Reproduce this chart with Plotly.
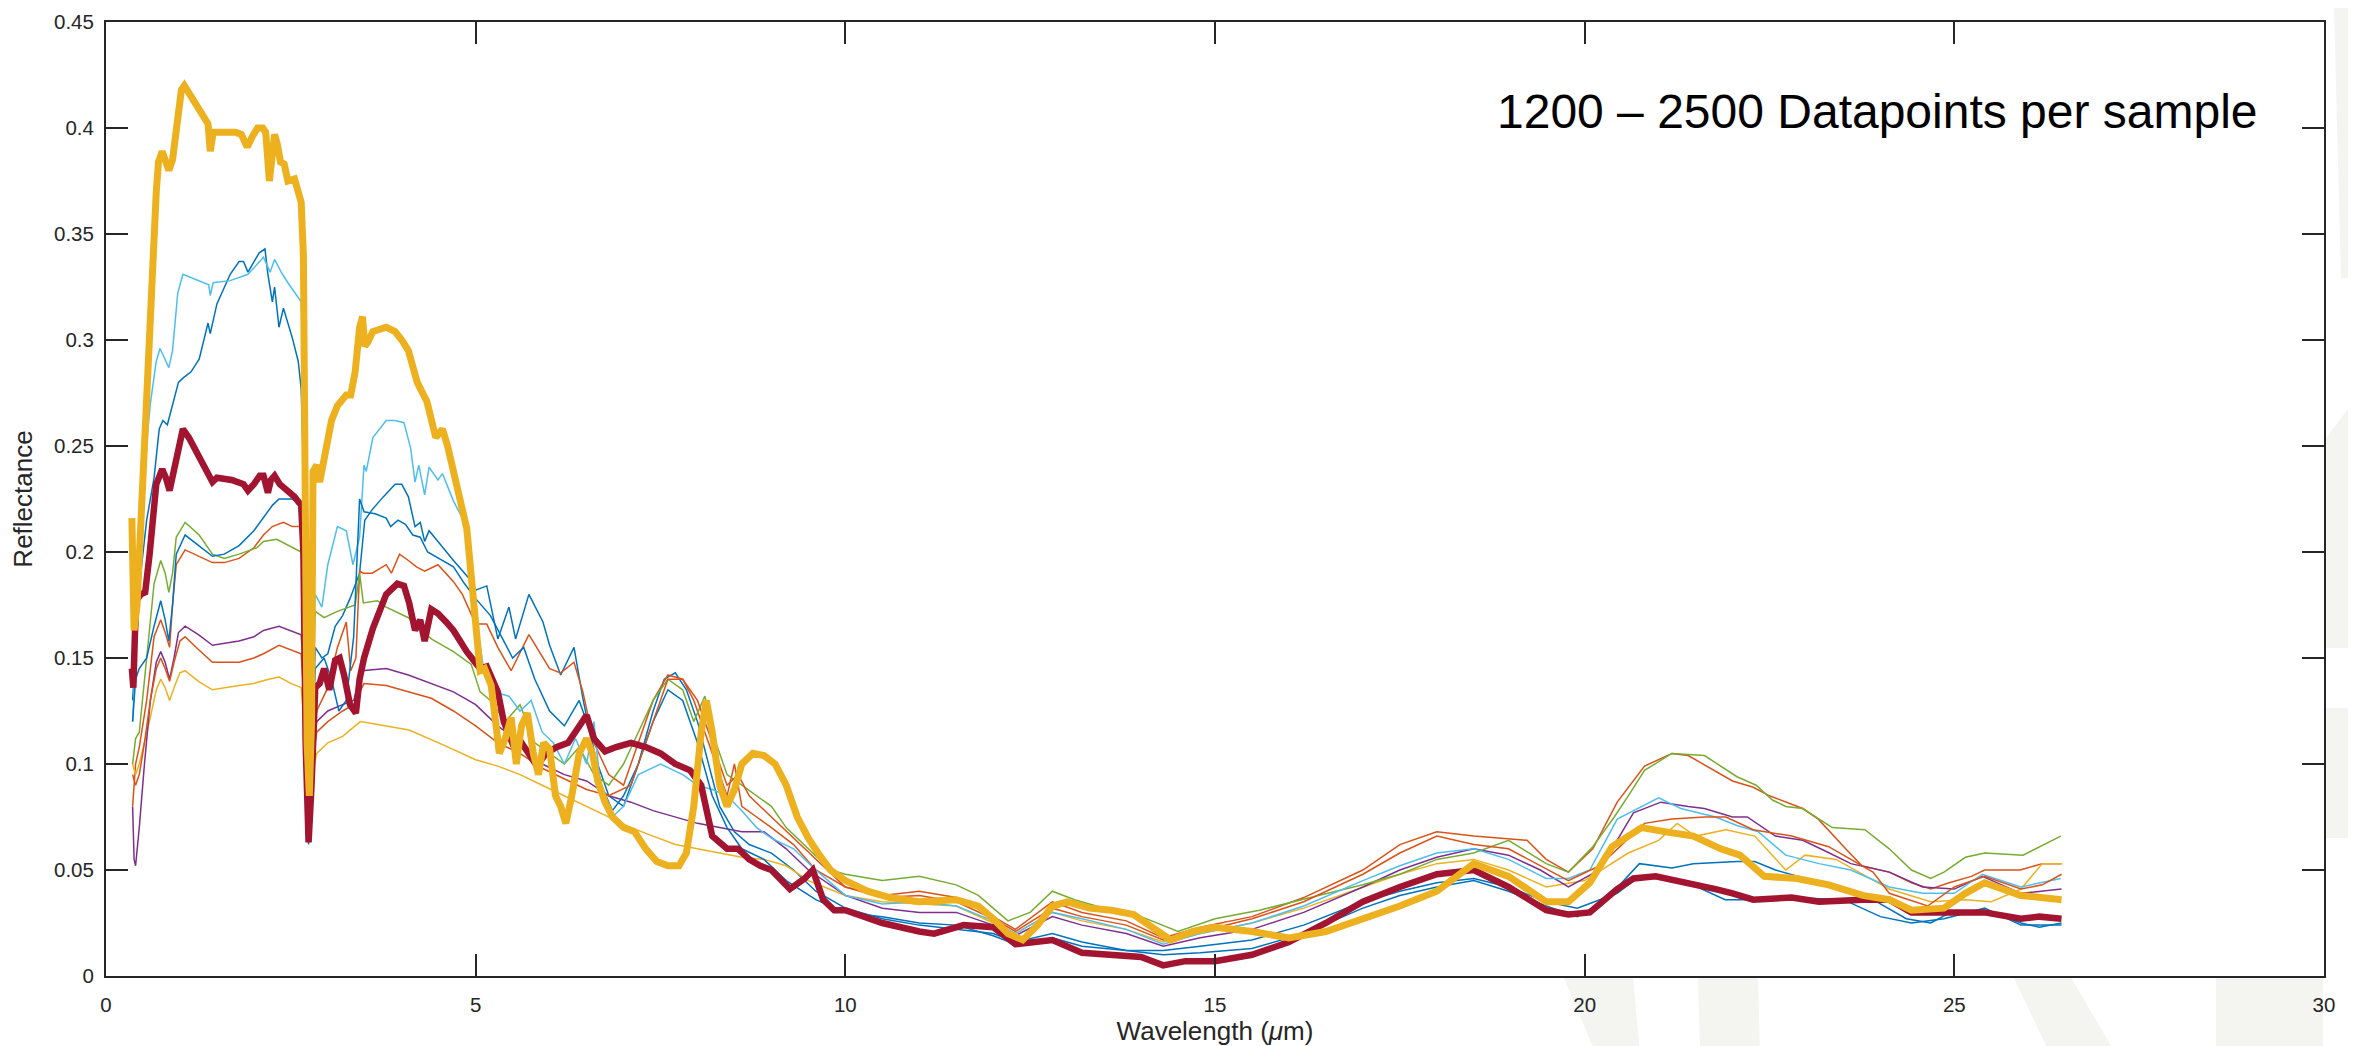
import plotly.graph_objects as go

# ---------------- data ----------------
yellow_thick_x = [0.35,0.37,0.38,0.42,0.47,0.52,0.56,0.62,0.68,0.71,0.76,0.80,0.85,0.90,0.96,1.02,1.06,1.15,1.26,1.38,1.41,1.45,1.60,1.75,1.83,1.91,1.98,2.05,2.12,2.16,2.21,2.25,2.28,2.32,2.36,2.41,2.46,2.55,2.61,2.64,2.67,2.69,2.72,2.75,2.78,2.80,2.85,2.89,2.95,3.05,3.13,3.25,3.31,3.37,3.43,3.47,3.50,3.54,3.61,3.70,3.79,3.85,3.91,4.00,4.09,4.21,4.34,4.46,4.55,4.62,4.70,4.80,4.88,4.95,5.00,5.06,5.12,5.21,5.27,5.32,5.40,5.48,5.55,5.62,5.70,5.78,5.85,5.92,6.00,6.08,6.15,6.22,6.30,6.40,6.50,6.58,6.65,6.75,6.85,7.00,7.15,7.30,7.45,7.60,7.75,7.85,7.95,8.05,8.12,8.20,8.30,8.40,8.50,8.60,8.75,8.90,9.05,9.20,9.35,9.50,9.65,9.80,10.0,10.3,10.6,11.0,11.5,11.8,12.0,12.2,12.4,12.6,12.8,13.0,13.3,13.6,13.9,14.2,14.4,14.7,15.0,15.5,16.0,16.5,17.0,17.5,18.0,18.5,18.97,19.48,19.78,20.07,20.37,20.77,21.10,21.47,21.84,22.10,22.43,22.87,23.30,23.76,24.12,24.42,24.86,25.15,25.41,25.90,26.45]
yellow_thick_y = [0.216,0.190,0.163,0.175,0.215,0.255,0.291,0.335,0.370,0.384,0.389,0.385,0.380,0.385,0.405,0.418,0.420,0.415,0.409,0.402,0.389,0.398,0.398,0.398,0.397,0.391,0.396,0.400,0.400,0.398,0.375,0.385,0.397,0.392,0.384,0.383,0.375,0.376,0.370,0.365,0.340,0.200,0.110,0.085,0.120,0.238,0.241,0.233,0.245,0.262,0.269,0.274,0.274,0.285,0.306,0.311,0.297,0.299,0.304,0.305,0.306,0.305,0.304,0.300,0.295,0.280,0.271,0.254,0.258,0.250,0.238,0.225,0.211,0.185,0.163,0.144,0.145,0.137,0.120,0.105,0.112,0.122,0.100,0.118,0.124,0.105,0.095,0.110,0.107,0.085,0.080,0.072,0.085,0.105,0.112,0.105,0.092,0.082,0.075,0.070,0.068,0.060,0.054,0.052,0.052,0.058,0.080,0.115,0.130,0.115,0.090,0.080,0.088,0.100,0.105,0.104,0.100,0.090,0.075,0.065,0.057,0.050,0.045,0.040,0.037,0.035,0.036,0.033,0.027,0.020,0.017,0.024,0.033,0.035,0.032,0.031,0.029,0.022,0.017,0.021,0.023,0.021,0.018,0.021,0.027,0.033,0.040,0.053,0.047,0.035,0.035,0.044,0.061,0.070,0.068,0.066,0.060,0.057,0.047,0.046,0.043,0.038,0.036,0.031,0.032,0.039,0.044,0.038,0.036]

red_thick_x = [0.35,0.37,0.39,0.41,0.47,0.53,0.59,0.65,0.68,0.76,0.81,0.86,0.92,0.98,1.04,1.12,1.20,1.30,1.41,1.44,1.50,1.70,1.86,1.92,2.00,2.08,2.13,2.19,2.23,2.28,2.35,2.46,2.55,2.64,2.67,2.70,2.74,2.78,2.83,2.89,2.95,3.02,3.10,3.16,3.22,3.30,3.38,3.43,3.49,3.61,3.79,3.94,4.03,4.10,4.15,4.18,4.25,4.31,4.40,4.49,4.60,4.70,4.88,5.06,5.15,5.30,5.38,5.46,5.54,5.62,5.70,5.83,5.95,6.10,6.25,6.40,6.50,6.60,6.75,6.90,7.10,7.30,7.50,7.70,7.90,8.05,8.20,8.40,8.55,8.70,8.85,9.00,9.25,9.45,9.56,9.70,9.85,10.0,10.5,11.0,11.2,11.6,12.0,12.3,12.8,13.2,13.8,14.0,14.3,14.6,15.0,15.5,16.0,16.5,17.0,17.5,18.0,18.5,18.97,19.48,19.78,20.07,20.44,20.66,20.96,21.40,21.77,22.00,22.28,22.80,23.17,23.76,24.12,24.42,24.86,25.41,25.90,26.15,26.45]
red_thick_y = [0.145,0.136,0.160,0.177,0.180,0.181,0.199,0.225,0.232,0.239,0.235,0.229,0.238,0.249,0.258,0.254,0.249,0.243,0.236,0.233,0.235,0.234,0.232,0.229,0.232,0.236,0.236,0.228,0.234,0.236,0.232,0.229,0.226,0.222,0.200,0.110,0.063,0.090,0.136,0.138,0.145,0.135,0.149,0.150,0.142,0.128,0.124,0.140,0.150,0.164,0.180,0.185,0.184,0.176,0.169,0.163,0.168,0.158,0.173,0.171,0.167,0.163,0.153,0.145,0.146,0.134,0.120,0.112,0.106,0.110,0.106,0.099,0.105,0.108,0.110,0.118,0.123,0.112,0.106,0.108,0.110,0.108,0.105,0.100,0.097,0.090,0.066,0.060,0.060,0.055,0.052,0.050,0.041,0.046,0.050,0.036,0.031,0.031,0.025,0.021,0.020,0.024,0.023,0.015,0.017,0.011,0.010,0.009,0.005,0.007,0.007,0.010,0.016,0.025,0.035,0.042,0.048,0.050,0.042,0.031,0.029,0.030,0.041,0.046,0.047,0.044,0.041,0.039,0.036,0.037,0.035,0.036,0.036,0.030,0.030,0.030,0.027,0.028,0.027]

green_x = [0.36,0.40,0.45,0.55,0.65,0.74,0.80,0.85,0.90,0.95,1.07,1.26,1.44,1.60,1.80,2.04,2.13,2.31,2.52,2.64,2.68,2.72,2.75,2.79,2.83,2.95,3.13,3.37,3.43,3.48,3.67,3.79,4.09,4.40,4.70,4.94,5.06,5.2,5.4,5.6,5.8,6.0,6.2,6.4,6.6,6.8,7.0,7.2,7.4,7.6,7.8,7.95,8.1,8.25,8.4,8.6,8.8,9.0,9.2,9.5,9.8,10.0,10.5,11.0,11.5,11.8,12.2,12.5,12.8,13.1,13.5,14.0,14.5,15.0,15.6,16.4,17.0,17.5,18.0,18.5,18.97,19.48,19.78,20.11,20.40,20.59,20.81,21.18,21.62,22.06,22.32,22.54,22.72,22.95,23.35,23.79,24.12,24.42,24.68,24.86,25.15,25.41,25.93,26.44]
green_y = [0.100,0.112,0.115,0.150,0.185,0.196,0.190,0.181,0.190,0.207,0.214,0.208,0.199,0.197,0.199,0.202,0.205,0.206,0.202,0.200,0.180,0.100,0.075,0.130,0.172,0.169,0.172,0.175,0.190,0.176,0.177,0.174,0.169,0.159,0.153,0.147,0.134,0.130,0.120,0.128,0.110,0.105,0.100,0.108,0.095,0.090,0.100,0.115,0.130,0.140,0.135,0.120,0.132,0.110,0.095,0.090,0.085,0.080,0.070,0.060,0.050,0.048,0.045,0.047,0.043,0.038,0.026,0.030,0.040,0.036,0.032,0.028,0.021,0.027,0.031,0.038,0.043,0.048,0.055,0.058,0.064,0.053,0.049,0.061,0.075,0.085,0.097,0.105,0.104,0.094,0.090,0.083,0.080,0.079,0.070,0.069,0.060,0.050,0.046,0.049,0.056,0.058,0.057,0.066]

orange1_x = [0.36,0.40,0.45,0.55,0.65,0.74,0.80,0.86,0.90,0.95,1.07,1.26,1.44,1.60,1.80,2.00,2.13,2.25,2.40,2.52,2.64,2.68,2.72,2.75,2.79,2.85,3.00,3.13,3.25,3.31,3.38,3.43,3.48,3.60,3.79,3.86,3.97,4.09,4.20,4.31,4.49,4.70,4.82,5.00,5.15,5.30,5.48,5.72,5.91,6.00,6.15,6.33,6.45,6.6,6.8,7.0,7.2,7.4,7.6,7.8,7.95,8.15,8.3,8.4,8.5,8.6,8.8,9.0,9.3,9.6,10.0,10.5,11.0,11.5,12.0,12.3,12.8,13.2,13.8,14.3,14.8,15.5,16.2,17.0,17.5,18.0,18.5,19.22,19.48,19.78,20.11,20.44,20.81,21.18,21.40,22.0,22.28,22.5,22.95,23.16,23.53,23.75,24.12,24.42,24.68,24.93,25.23,25.41,25.89,26.19,26.45]
orange1_y = [0.080,0.100,0.108,0.130,0.160,0.168,0.162,0.155,0.175,0.194,0.201,0.198,0.195,0.195,0.197,0.202,0.208,0.212,0.214,0.212,0.212,0.190,0.100,0.070,0.110,0.125,0.136,0.155,0.167,0.144,0.150,0.191,0.190,0.190,0.194,0.190,0.199,0.196,0.193,0.191,0.194,0.186,0.180,0.166,0.166,0.155,0.144,0.161,0.150,0.145,0.143,0.148,0.134,0.110,0.095,0.090,0.110,0.130,0.142,0.140,0.130,0.110,0.095,0.085,0.100,0.080,0.075,0.070,0.062,0.050,0.042,0.038,0.040,0.037,0.028,0.022,0.035,0.030,0.026,0.018,0.023,0.028,0.037,0.050,0.062,0.068,0.066,0.064,0.055,0.049,0.060,0.082,0.099,0.105,0.104,0.092,0.089,0.085,0.079,0.074,0.060,0.052,0.049,0.044,0.041,0.044,0.047,0.050,0.050,0.053,0.053]

lightblue_x = [0.36,0.40,0.45,0.52,0.60,0.68,0.73,0.78,0.85,0.90,0.97,1.04,1.26,1.39,1.41,1.45,1.68,1.92,2.13,2.22,2.28,2.37,2.46,2.64,2.67,2.70,2.74,2.78,2.83,2.92,3.00,3.13,3.25,3.34,3.43,3.49,3.52,3.61,3.79,3.91,4.03,4.12,4.18,4.23,4.31,4.37,4.49,4.55,4.70,4.82,4.94,5.00,5.06,5.12,5.18,5.24,5.45,5.6,5.75,5.9,6.05,6.2,6.35,6.5,6.6,6.7,6.85,7.0,7.2,7.5,7.8,8.0,8.2,8.4,8.6,8.8,9.0,9.3,9.6,10.0,10.5,11.0,11.5,12.0,12.3,12.8,13.2,13.8,14.3,14.8,15.5,16.2,17.0,17.5,18.0,18.5,18.97,19.48,19.78,20.07,20.44,21.0,21.3,21.77,22.06,22.35,22.72,23.17,23.6,24.12,24.57,25.0,25.38,25.9,26.44]
lightblue_y = [0.120,0.150,0.190,0.240,0.270,0.290,0.296,0.292,0.287,0.295,0.322,0.331,0.328,0.326,0.321,0.327,0.328,0.331,0.339,0.332,0.338,0.332,0.327,0.318,0.290,0.120,0.070,0.130,0.180,0.174,0.194,0.212,0.210,0.194,0.207,0.241,0.238,0.254,0.262,0.262,0.261,0.249,0.233,0.241,0.227,0.240,0.234,0.237,0.224,0.216,0.199,0.163,0.156,0.142,0.145,0.134,0.132,0.125,0.130,0.115,0.110,0.100,0.112,0.100,0.120,0.085,0.075,0.080,0.095,0.100,0.095,0.090,0.088,0.085,0.078,0.070,0.065,0.060,0.050,0.038,0.034,0.035,0.033,0.026,0.020,0.030,0.027,0.022,0.015,0.020,0.025,0.033,0.045,0.052,0.058,0.060,0.055,0.046,0.046,0.050,0.074,0.084,0.079,0.075,0.071,0.068,0.057,0.053,0.050,0.042,0.039,0.039,0.048,0.042,0.046]

blue1_x = [0.36,0.38,0.41,0.47,0.55,0.65,0.72,0.77,0.83,0.90,0.98,1.04,1.15,1.26,1.38,1.41,1.50,1.68,1.80,1.86,1.92,2.07,2.15,2.19,2.25,2.28,2.34,2.40,2.52,2.60,2.64,2.67,2.70,2.74,2.78,2.83,2.92,3.00,3.10,3.20,3.30,3.43,3.50,3.60,3.75,3.91,4.00,4.09,4.18,4.25,4.31,4.37,4.49,4.60,4.70,4.90,5.00,5.15,5.30,5.45,5.54,5.72,5.91,6.00,6.15,6.33,6.45,6.6,6.8,7.0,7.2,7.4,7.55,7.7,7.85,8.0,8.15,8.3,8.5,8.7,9.0,9.3,9.6,10.0,10.5,11.0,11.5,12.0,12.3,12.8,13.2,13.8,14.3,14.8,15.5,16.2,17.0,17.5,18.0,18.5,18.97,19.48,19.9,20.29,20.74,21.18,21.47,22.06,22.3,22.58,23.09,23.5,23.9,24.35,24.68,24.95,25.41,25.9,26.15,26.45]
blue1_y = [0.130,0.140,0.160,0.190,0.215,0.235,0.258,0.262,0.260,0.270,0.280,0.282,0.285,0.291,0.308,0.303,0.317,0.331,0.337,0.337,0.332,0.341,0.343,0.331,0.318,0.325,0.306,0.315,0.301,0.290,0.277,0.240,0.110,0.062,0.100,0.155,0.150,0.152,0.165,0.170,0.178,0.190,0.215,0.220,0.226,0.232,0.232,0.226,0.212,0.214,0.205,0.210,0.205,0.200,0.196,0.188,0.182,0.184,0.159,0.174,0.159,0.180,0.167,0.156,0.142,0.155,0.131,0.105,0.085,0.080,0.100,0.125,0.140,0.143,0.135,0.120,0.100,0.080,0.068,0.062,0.058,0.050,0.040,0.032,0.027,0.024,0.022,0.020,0.016,0.020,0.016,0.012,0.010,0.011,0.013,0.020,0.032,0.038,0.042,0.045,0.040,0.033,0.028,0.036,0.053,0.051,0.053,0.054,0.054,0.050,0.045,0.041,0.036,0.027,0.025,0.030,0.031,0.025,0.023,0.025]

blue2_x = [0.36,0.40,0.45,0.55,0.65,0.74,0.80,0.85,0.90,0.95,1.07,1.25,1.44,1.60,1.80,2.00,2.13,2.25,2.34,2.52,2.64,2.67,2.70,2.74,2.78,2.83,2.95,3.05,3.15,3.25,3.35,3.43,3.49,3.64,3.79,3.85,3.95,4.05,4.15,4.25,4.35,4.5,4.7,4.85,5.0,5.2,5.35,5.5,5.65,5.8,6.0,6.2,6.4,6.55,6.7,6.85,7.0,7.2,7.4,7.6,7.8,8.0,8.2,8.4,8.6,8.9,9.2,9.6,10.0,10.5,11.0,11.5,12.0,12.3,12.8,13.2,13.8,14.3,14.8,15.5,16.2,17.0,17.5,18.0,18.5,18.97,19.48,19.9,20.44,20.74,21.40,21.9,22.28,22.8,23.5,24.0,24.42,24.86,25.41,25.9,26.45]
blue2_y = [0.120,0.140,0.145,0.150,0.165,0.177,0.168,0.158,0.175,0.199,0.208,0.203,0.198,0.199,0.203,0.210,0.216,0.222,0.225,0.225,0.222,0.200,0.100,0.063,0.100,0.145,0.150,0.140,0.125,0.130,0.160,0.225,0.219,0.218,0.216,0.212,0.215,0.213,0.208,0.207,0.200,0.197,0.193,0.185,0.178,0.170,0.160,0.150,0.155,0.140,0.125,0.118,0.130,0.115,0.090,0.078,0.085,0.100,0.120,0.135,0.130,0.110,0.085,0.070,0.060,0.055,0.045,0.036,0.030,0.028,0.025,0.024,0.019,0.015,0.018,0.014,0.012,0.012,0.014,0.017,0.024,0.035,0.040,0.044,0.046,0.042,0.035,0.032,0.039,0.047,0.044,0.036,0.036,0.037,0.036,0.028,0.025,0.027,0.032,0.024,0.024]

purple_x = [0.36,0.38,0.40,0.45,0.52,0.60,0.68,0.74,0.80,0.86,0.92,0.98,1.07,1.25,1.44,1.60,1.80,2.00,2.13,2.34,2.50,2.64,2.68,2.72,2.75,2.79,2.85,3.0,3.2,3.35,3.46,3.79,4.09,4.4,4.70,5.0,5.3,5.6,5.9,6.2,6.5,6.8,7.1,7.4,7.7,8.0,8.3,8.6,8.9,9.2,9.5,10.0,10.5,11.0,11.5,12.0,12.3,12.8,13.2,13.8,14.3,14.8,15.5,16.2,17.0,17.5,18.0,18.5,18.97,19.4,19.78,20.2,20.66,21.03,21.40,21.62,22.0,22.2,22.58,22.95,23.31,23.6,24.12,24.57,25.0,25.38,25.9,26.45]
purple_y = [0.080,0.055,0.052,0.070,0.100,0.130,0.148,0.153,0.148,0.140,0.150,0.162,0.165,0.161,0.156,0.157,0.158,0.160,0.163,0.165,0.163,0.161,0.140,0.090,0.070,0.100,0.120,0.125,0.128,0.130,0.144,0.145,0.142,0.138,0.134,0.128,0.118,0.110,0.100,0.095,0.092,0.085,0.082,0.078,0.075,0.072,0.070,0.068,0.068,0.060,0.050,0.038,0.032,0.030,0.030,0.024,0.019,0.028,0.024,0.020,0.014,0.018,0.022,0.030,0.042,0.050,0.056,0.060,0.057,0.050,0.042,0.050,0.077,0.082,0.080,0.079,0.075,0.075,0.066,0.064,0.058,0.053,0.049,0.042,0.041,0.047,0.039,0.041]

orange2_x = [0.36,0.40,0.45,0.52,0.60,0.68,0.74,0.80,0.86,0.92,1.00,1.07,1.25,1.44,1.60,1.80,2.00,2.13,2.34,2.50,2.64,2.68,2.72,2.75,2.79,2.85,3.0,3.2,3.35,3.49,3.79,4.1,4.4,4.70,5.0,5.3,5.6,5.9,6.2,6.5,6.8,7.1,7.4,7.6,7.8,8.0,8.2,8.4,8.55,8.7,9.0,9.3,9.6,10.0,10.5,11.0,11.5,12.0,12.3,12.8,13.2,13.8,14.3,14.8,15.5,16.2,17.0,17.5,18.0,18.5,18.97,19.4,19.78,20.2,20.81,21.18,21.62,21.91,22.28,22.8,23.3,23.6,23.9,24.12,24.64,25.0,25.41,25.9,26.19,26.45]
orange2_y = [0.095,0.090,0.095,0.110,0.130,0.145,0.150,0.145,0.139,0.148,0.158,0.160,0.154,0.148,0.148,0.148,0.150,0.152,0.156,0.154,0.152,0.130,0.090,0.075,0.100,0.115,0.120,0.125,0.128,0.138,0.137,0.134,0.131,0.125,0.118,0.110,0.105,0.098,0.093,0.088,0.085,0.090,0.120,0.140,0.140,0.130,0.110,0.090,0.095,0.085,0.075,0.065,0.055,0.042,0.037,0.038,0.035,0.027,0.021,0.032,0.028,0.024,0.017,0.021,0.027,0.035,0.048,0.058,0.066,0.062,0.060,0.052,0.045,0.052,0.072,0.074,0.075,0.075,0.069,0.066,0.061,0.055,0.049,0.039,0.033,0.042,0.047,0.041,0.043,0.048]

yellow_thin_x = [0.36,0.40,0.45,0.52,0.60,0.68,0.74,0.80,0.86,0.92,1.00,1.07,1.25,1.44,1.60,1.80,2.00,2.20,2.34,2.50,2.64,2.68,2.72,2.75,2.79,2.85,3.0,3.2,3.44,3.8,4.1,4.56,5.0,5.3,5.6,5.9,6.2,6.5,6.8,7.1,7.4,7.7,8.0,8.3,8.6,8.9,9.2,9.5,10.0,10.5,11.0,11.5,12.0,12.3,12.8,13.2,13.8,14.3,14.8,15.5,16.2,17.0,17.5,18.0,18.5,18.97,19.48,20.0,20.59,21.0,21.25,21.5,21.91,22.3,22.72,22.98,23.4,24.12,24.68,25.15,25.5,25.9,26.19,26.45]
yellow_thin_y = [0.100,0.095,0.100,0.110,0.122,0.135,0.140,0.136,0.130,0.136,0.143,0.144,0.139,0.135,0.136,0.137,0.138,0.140,0.141,0.138,0.136,0.120,0.090,0.080,0.095,0.105,0.110,0.113,0.120,0.118,0.116,0.109,0.102,0.099,0.095,0.090,0.085,0.080,0.075,0.070,0.066,0.062,0.060,0.058,0.056,0.055,0.052,0.045,0.038,0.035,0.034,0.033,0.025,0.020,0.030,0.026,0.022,0.016,0.020,0.025,0.032,0.042,0.048,0.053,0.055,0.050,0.042,0.045,0.058,0.064,0.072,0.066,0.069,0.066,0.050,0.057,0.055,0.041,0.035,0.036,0.035,0.041,0.053,0.053]

x_tick_vals = [0, 5, 10, 15, 20, 25, 30]
y_tick_vals = [0, 0.05, 0.1, 0.15, 0.2, 0.25, 0.3, 0.35, 0.4, 0.45]

# ---------------- styling ----------------
BLUE = "#0072BD"; ORANGE = "#D95319"; YELLOW = "#EDB120"; PURPLE = "#7E2F8E"
GREEN = "#77AC30"; LBLUE = "#4DBEEE"; DRED = "#A2142F"
AX = "#262626"
FONT = "Liberation Sans, Arial, Helvetica, sans-serif"

thin = [
    (blue1_x, blue1_y, BLUE),
    (orange1_x, orange1_y, ORANGE),
    (yellow_thin_x, yellow_thin_y, YELLOW),
    (purple_x, purple_y, PURPLE),
    (green_x, green_y, GREEN),
    (lightblue_x, lightblue_y, LBLUE),
    (blue2_x, blue2_y, BLUE),
    (orange2_x, orange2_y, ORANGE),
]

fig = go.Figure()
for xs, ys, c in thin:
    fig.add_trace(go.Scatter(x=xs, y=ys, mode="lines",
                             line=dict(color=c, width=1.5), hoverinfo="skip"))
fig.add_trace(go.Scatter(x=red_thick_x, y=red_thick_y, mode="lines",
                         line=dict(color=DRED, width=6.5), hoverinfo="skip"))
fig.add_trace(go.Scatter(x=yellow_thick_x, y=yellow_thick_y, mode="lines",
                         line=dict(color=YELLOW, width=7), hoverinfo="skip"))

W, H = 2356, 1046
L, R, T, B = 98, 40, 14, 78
pw, ph = W - L - R, H - T - B

def px(x):
    return (x - L) / pw

def py(y):
    return (H - B - y) / ph

# faint background watermark shapes (outside the plot area)
wm = "#f4f4f0"
shapes = []
polys = [
    [(1555, 968), (1625, 968), (1632, 1046), (1588, 1046)],
    [(1690, 968), (1750, 968), (1752, 1046), (1692, 1046)],
    [(2005, 968), (2062, 968), (2108, 1046), (2042, 1046)],
    [(2208, 968), (2315, 968), (2315, 1046), (2208, 1046)],
    [(2326, 0), (2356, 0), (2356, 270), (2333, 270)],
    [(2318, 430), (2356, 380), (2356, 640), (2318, 640)],
    [(2318, 700), (2356, 700), (2356, 830), (2318, 830)],
]
for poly in polys:
    path = "M " + " L ".join(f"{px(a):.5f},{py(b):.5f}" for a, b in poly) + " Z"
    shapes.append(dict(type="path", path=path, xref="paper", yref="paper",
                       fillcolor=wm, line=dict(width=0), layer="below"))

axis_common = dict(showline=True, linecolor=AX, linewidth=2, mirror="ticks",
                   ticks="inside", ticklen=22, tickwidth=1.6, tickcolor=AX,
                   showgrid=False, zeroline=False,
                   tickfont=dict(family=FONT, size=20.5, color=AX))

fig.update_layout(
    width=W, height=H,
    margin=dict(l=L, r=R, t=T, b=B, autoexpand=False),
    paper_bgcolor="white", plot_bgcolor="white",
    showlegend=False, hovermode=False,
    shapes=shapes,
    xaxis=dict(range=[0, 30], tickvals=x_tick_vals, automargin=False,
               ticklabelstandoff=9,
               title=dict(text="Wavelength (<i>μ</i>m)", standoff=1,
                          font=dict(family=FONT, size=26, color=AX)),
               **axis_common),
    yaxis=dict(range=[0, 0.45], tickvals=y_tick_vals, automargin=False,
               ticklabelstandoff=6,
               title=dict(text="Reflectance", standoff=14,
                          font=dict(family=FONT, size=26, color=AX)),
               **axis_common),
    annotations=[dict(text="1200 – 2500 Datapoints per sample",
                      xref="paper", yref="paper", x=px(1487), y=py(103),
                      xanchor="left", yanchor="middle", showarrow=False,
                      font=dict(family=FONT, size=48, color="black"))],
)

fig.write_html("out.html", config={"displayModeBar": False})
